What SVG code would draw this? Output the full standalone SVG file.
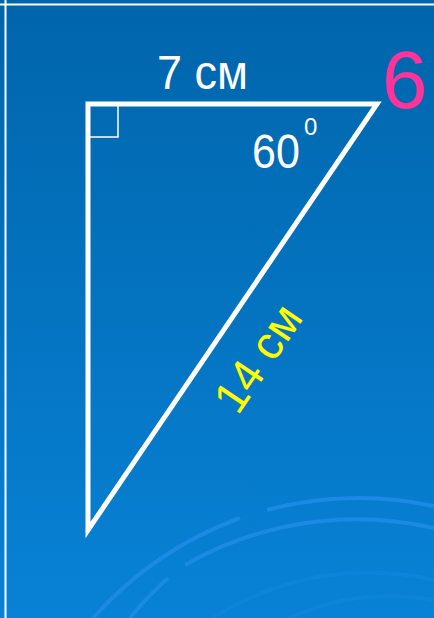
<svg xmlns="http://www.w3.org/2000/svg" width="434" height="618" viewBox="0 0 434 618">
<defs>
<linearGradient id="bg" x1="0" y1="0" x2="0" y2="1">
<stop offset="0" stop-color="#0065ab"/>
<stop offset="1" stop-color="#0882d6"/>
</linearGradient>
<style>
.lbl{font-family:"Liberation Sans",Arial,sans-serif;}
.arc{fill:none;stroke:#1a8ae4;stroke-width:4;}
.arcf{fill:none;stroke:#1288e0;stroke-width:4;opacity:0.5;}
</style>
</defs>
<rect x="0" y="0" width="434" height="618" fill="url(#bg)"/>
<g id="decor">
<path class="arc" d="M 93 618 A 365 365 0 0 1 240 518"/>
<path class="arc" d="M 267 510 A 365 365 0 0 1 434 506"/>
<path class="arc" d="M 130 618 A 345 345 0 0 1 168 578"/>
<path class="arc" d="M 185 565 A 345 345 0 0 1 434 528"/>
<path class="arcf" d="M 213 618 A 290 290 0 0 1 434 580"/>
<path class="arcf" d="M 290 618 A 240 240 0 0 1 434 600"/>
</g>
<g id="frame" stroke="#ffffff" stroke-width="2">
<line x1="0" y1="4.5" x2="434" y2="4.5"/>
<line x1="5.5" y1="0" x2="5.5" y2="618"/>
</g>
<g id="triangle">
<polygon points="88,104 377,104 88,530" fill="none" stroke="#ffffff" stroke-width="5"/>
<rect x="88" y="104" width="30" height="33" fill="none" stroke="#ffffff" stroke-width="1.5"/>
</g>
<g id="labels" class="lbl">
<text x="157" y="89" font-size="45" fill="#ffffff" transform="translate(0,89) scale(1,1.05) translate(0,-89)">7 см</text>
<text x="252" y="168" font-size="43" fill="#ffffff" transform="translate(0,168) scale(1,1.1) translate(0,-168)">60</text>
<text x="304" y="135" font-size="24" fill="#ffffff">0</text>
<text x="382" y="108" font-size="82" fill="#ff3399">6</text>
<text x="271" y="367" font-size="46" fill="#ffff00" text-anchor="middle" transform="rotate(-56 271 367)">14 см</text>
</g>
</svg>
